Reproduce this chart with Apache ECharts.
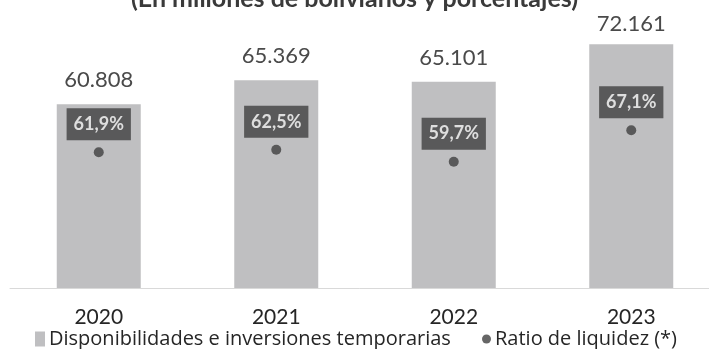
<!DOCTYPE html>
<html>
<head>
<meta charset="utf-8">
<script src="https://cdn.jsdelivr.net/npm/echarts@6/dist/echarts.min.js"></script>
<style>
  html, body { margin: 0; padding: 0; background: #ffffff; }
  #chart { width: 709px; height: 349px; }
</style>
</head>
<body>
<div id="chart"></div>
<script>
// Years shown on the category axis
const years = ['2020', '2021', '2022', '2023'];
// Cash and temporary investments, millions of bolivianos
const disponibilidades = [60808, 65369, 65101, 72161];
// Liquidity ratio, percent
const ratioLiquidez = [61.9, 62.5, 59.7, 67.1];

const FONT = 'Lato';
const LEGEND_FONT = 'Open Sans';

function miles(v) {
  return String(v).replace(/\B(?=(\d{3})+(?!\d))/g, '.');
}
function pct(v) {
  return v.toFixed(1).replace('.', ',') + '%';
}

// The tallest bar's label sits a little closer to the bar so it stays clear of the title
const maxIdx = disponibilidades.indexOf(Math.max(...disponibilidades));
const barData = disponibilidades.map((v, i) =>
  i === maxIdx ? { value: v, label: { distance: 9 } } : v
);

const chart = echarts.init(document.getElementById('chart'), null, { renderer: 'canvas' });

chart.setOption({
  backgroundColor: '#ffffff',
  animation: false,
  graphic: [{
    type: 'text',
    left: 'center',
    top: -14,
    style: {
      text: '(En millones de bolivianos y porcentajes)',
      fontFamily: FONT,
      fontWeight: 'bold',
      fontSize: 25,
      fill: '#3a3a3a'
    }
  }],
  legend: [{
    left: 35,
    top: 329,
    padding: 0,
    itemWidth: 10,
    itemHeight: 15,
    itemGap: 4,
    data: [{ name: 'Disponibilidades e inversiones temporarias', icon: 'rect' }],
    textStyle: { fontFamily: LEGEND_FONT, fontSize: 20, color: '#262626', padding: [0, 0, 0, -1] }
  }, {
    left: 482,
    top: 329,
    padding: 0,
    itemWidth: 9,
    itemHeight: 9,
    itemGap: 4,
    data: [{ name: 'Ratio de liquidez (*)', icon: 'circle' }],
    textStyle: { fontFamily: LEGEND_FONT, fontSize: 20, color: '#262626', padding: [0, 0, 0, -1] }
  }],
  grid: { left: 10, width: 710, top: 3, bottom: 61, outerBoundsMode: 'none' },
  xAxis: {
    type: 'category',
    data: years,
    axisLine: { show: true, lineStyle: { color: '#d9d9d9', width: 1 } },
    axisTick: { show: false },
    axisLabel: { fontFamily: FONT, fontSize: 21, color: '#262626', margin: 19 }
  },
  yAxis: [{
    type: 'value',
    min: 26000,
    max: 80000,
    show: false,
    splitLine: { show: false }
  }, {
    type: 'value',
    min: 30,
    max: 97,
    show: false,
    splitLine: { show: false }
  }],
  series: [{
    name: 'Disponibilidades e inversiones temporarias',
    type: 'bar',
    data: barData,
    barWidth: 84,
    itemStyle: { color: '#bfbfc1' },
    label: {
      show: true,
      position: 'top',
      distance: 13,
      fontFamily: FONT,
      fontSize: 22,
      color: '#4a4a4a',
      formatter: p => miles(p.value)
    }
  }, {
    name: 'Ratio de liquidez (*)',
    type: 'scatter',
    yAxisIndex: 1,
    data: ratioLiquidez,
    symbol: 'circle',
    symbolSize: 10,
    itemStyle: { color: '#404040' },
    label: {
      show: true,
      position: 'top',
      distance: 7,
      fontFamily: FONT,
      fontWeight: 'bold',
      fontSize: 18,
      color: '#ffffff',
      backgroundColor: '#404040',
      padding: [7, 7, 7, 7],
      formatter: p => pct(p.value)
    }
  }]
});
</script>
</body>
</html>
